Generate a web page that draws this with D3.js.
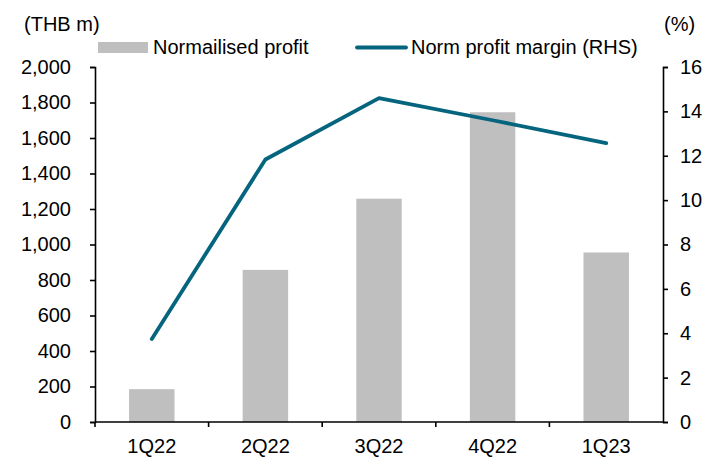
<!DOCTYPE html>
<html>
<head>
<meta charset="utf-8">
<script src="https://cdn.jsdelivr.net/npm/d3@7"></script>
<style>
  body { margin: 0; background: #fff; }
  text { font-family: "Liberation Sans", Arial, sans-serif; fill: #000; }
</style>
</head>
<body>
<div id="viz"></div>
<script>
// chart data
const quarters = ["1Q22", "2Q22", "3Q22", "4Q22", "1Q23"];
const normProfit = [185, 857, 1258, 1745, 955];      // THB m
const normMargin = [3.74, 11.83, 14.6, 13.6, 12.57]; // %
const leftTicks = [0, 200, 400, 600, 800, 1000, 1200, 1400, 1600, 1800, 2000];
const rightTicks = [0, 2, 4, 6, 8, 10, 12, 14, 16];

const F_WIDTH = 724, F_HEIGHT = 464;
const MARGINS = {left: 95, right: 61, top: 67, bottom: 42};
const VIS_WIDTH = F_WIDTH - MARGINS.left - MARGINS.right;
const VIS_HEIGHT = F_HEIGHT - MARGINS.top - MARGINS.bottom;

const BAR_COLOR = "#bfbfbf";
const LINE_COLOR = "#05647e";
const FONT = 20;

const FRAME = d3.select("#viz").append("svg")
    .attr("width", F_WIDTH)
    .attr("height", F_HEIGHT);

const X_SCALE = d3.scaleBand().domain(quarters).range([0, VIS_WIDTH]);
const Y_LEFT = d3.scaleLinear().domain([0, 2000]).range([VIS_HEIGHT, 0]);
const Y_RIGHT = d3.scaleLinear().domain([0, 16]).range([VIS_HEIGHT, 0]);

const G = FRAME.append("g")
    .attr("transform", "translate(" + MARGINS.left + "," + MARGINS.top + ")");

// bars (gap width 150%)
const barW = X_SCALE.bandwidth() / 2.5;
G.selectAll(".bar")
  .data(quarters)
  .enter()
  .append("rect")
    .attr("x", (d) => X_SCALE(d) + (X_SCALE.bandwidth() - barW) / 2)
    .attr("y", (d, i) => Y_LEFT(normProfit[i]))
    .attr("width", barW)
    .attr("height", (d, i) => VIS_HEIGHT - Y_LEFT(normProfit[i]))
    .style("fill", BAR_COLOR);

// margin line
const line = d3.line()
    .x((d, i) => X_SCALE(quarters[i]) + X_SCALE.bandwidth() / 2)
    .y((d) => Y_RIGHT(d));
G.append("path")
    .datum(normMargin)
    .attr("d", line)
    .attr("fill", "none")
    .attr("stroke", LINE_COLOR)
    .attr("stroke-width", 3.8)
    .attr("stroke-linejoin", "round")
    .attr("stroke-linecap", "round");

function styleAxis(g) {
  g.selectAll("path, line").attr("stroke", "#000").attr("stroke-width", 1.6);
  g.selectAll("text").style("font-size", FONT + "px").attr("fill", "#000");
}

// left axis
G.append("g")
    .call(d3.axisLeft(Y_LEFT).tickValues(leftTicks).tickSize(5).tickSizeOuter(5)
      .tickPadding(19).tickFormat(d3.format(",")))
    .call(styleAxis);

// right axis
G.append("g")
    .attr("transform", "translate(" + VIS_WIDTH + ",0)")
    .call(d3.axisRight(Y_RIGHT).tickValues(rightTicks).tickSize(5).tickSizeOuter(5)
      .tickPadding(12))
    .call(styleAxis);

// x axis: line, tick marks between categories, labels centred
const xAxis = G.append("g").attr("transform", "translate(0," + VIS_HEIGHT + ")");
xAxis.append("line")
    .attr("x1", 0).attr("x2", VIS_WIDTH)
    .attr("stroke", "#000").attr("stroke-width", 1.6);
xAxis.selectAll(".xtick")
  .data(quarters)
  .enter()
  .append("line")
    .attr("x1", (d) => X_SCALE(d)).attr("x2", (d) => X_SCALE(d))
    .attr("y1", 0).attr("y2", 5)
    .attr("stroke", "#000").attr("stroke-width", 1.6);
xAxis.selectAll(".xlab")
  .data(quarters)
  .enter()
  .append("text")
    .attr("x", (d) => X_SCALE(d) + X_SCALE.bandwidth() / 2)
    .attr("y", 31)
    .attr("text-anchor", "middle")
    .style("font-size", FONT + "px")
    .text((d) => d);

// axis titles
FRAME.append("text").attr("x", 24).attr("y", 31)
    .style("font-size", FONT + "px").text("(THB m)");
FRAME.append("text").attr("x", 664).attr("y", 31)
    .style("font-size", FONT + "px").text("(%)");

// legend
const LEG = FRAME.append("g");
LEG.append("rect").attr("x", 98).attr("y", 42).attr("width", 50).attr("height", 11)
    .style("fill", BAR_COLOR);
LEG.append("text").attr("x", 153).attr("y", 54)
    .style("font-size", FONT + "px").text("Normailised profit");
LEG.append("line").attr("x1", 357).attr("x2", 406).attr("y1", 47.5).attr("y2", 47.5)
    .attr("stroke", LINE_COLOR).attr("stroke-width", 3.8).attr("stroke-linecap", "round");
LEG.append("text").attr("x", 411).attr("y", 54)
    .style("font-size", FONT + "px").text("Norm profit margin (RHS)");
</script>
</body>
</html>
